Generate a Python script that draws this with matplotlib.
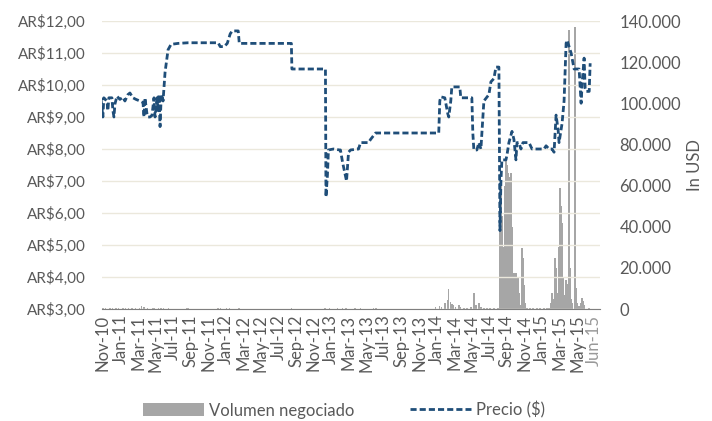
import matplotlib
matplotlib.use('Agg')
import matplotlib.pyplot as plt
from matplotlib.lines import Line2D
from matplotlib.patches import Patch

plt.rcParams['font.family'] = ['Lato', 'DejaVu Sans']

# x values are months counted from Nov-10
tick_months = list(range(0, 55, 2)) + [55.9]
tick_labels = ['Nov-10', 'Jan-11', 'Mar-11', 'May-11', 'Jul-11', 'Sep-11', 'Nov-11',
               'Jan-12', 'Mar-12', 'May-12', 'Jul-12', 'Sep-12', 'Nov-12',
               'Jan-13', 'Mar-13', 'May-13', 'Jul-13', 'Sep-13', 'Nov-13',
               'Jan-14', 'Mar-14', 'May-14', 'Jul-14', 'Sep-14', 'Nov-14',
               'Jan-15', 'Mar-15', 'May-15', 'Jun-15']

price_months = [-0.34, -0.23, 0.0, 0.11, 0.46, 0.57, 0.68, 1.03, 1.14, 1.26, 1.37, 1.60,
                1.94, 2.28, 2.51, 2.85, 3.08, 3.42, 3.77, 4.22, 4.57, 4.68, 4.79, 5.02,
                5.14, 5.37, 5.59, 5.82, 5.94, 6.16, 6.28, 6.39, 6.51, 6.62, 6.74, 6.85,
                7.08, 7.42, 7.76, 8.56, 9.70, 13.13, 13.36, 13.81, 14.16, 14.50, 14.73,
                15.41, 15.53, 21.46, 21.52, 25.34, 25.40, 25.57, 25.68, 26.26, 26.94,
                27.05, 27.28, 27.74, 27.97, 28.20, 29.11, 29.34, 30.25, 30.48, 31.05,
                38.24, 38.36, 38.47, 38.93, 39.27, 39.38, 39.61, 39.73, 40.64, 40.75,
                42.01, 42.12, 42.24, 42.58, 42.81, 43.04, 43.38, 43.95, 44.18, 44.52,
                44.75, 45.09, 45.21, 45.32, 45.43, 45.89, 46.00, 46.23, 46.58, 46.80,
                47.03, 47.15, 47.37, 47.60, 47.83, 48.52, 48.86, 49.66, 50.23, 50.46,
                50.80, 51.14, 51.37, 51.60, 51.83, 51.94, 52.28, 52.51, 52.74, 52.85,
                53.31, 53.65, 54.22, 54.45, 54.57, 54.79, 54.91, 55.02, 55.37, 55.48]
price_values = [9.3, 9.6, 9.0, 9.6, 9.5, 9.2, 9.6, 9.6, 9.2, 9.0, 9.4, 9.65,
                9.55, 9.62, 9.5, 9.7, 9.75, 9.6, 9.55, 9.5, 9.45, 9.0, 9.6, 9.1,
                9.0, 9.0, 9.05, 9.6, 9.0, 9.6, 9.2, 9.7, 8.7, 9.5, 9.7, 9.5,
                10.4, 11.1, 11.27, 11.3, 11.32, 11.32, 11.2, 11.2, 11.3, 11.6, 11.69,
                11.69, 11.3, 11.3, 10.5, 10.5, 6.5, 7.2, 7.97, 8.0, 7.97,
                7.97, 7.6, 7.0, 7.9, 7.97, 8.0, 8.2, 8.2, 8.3, 8.5,
                8.5, 9.5, 9.63, 9.6, 9.1, 9.0, 9.5, 9.94, 9.94, 9.6,
                9.6, 8.5, 7.97, 7.97, 8.2, 8.0, 9.5, 9.7, 10.1, 10.2,
                10.56, 10.56, 5.45, 7.0, 7.66, 7.66, 7.8, 8.2, 8.55, 8.3,
                7.66, 8.2, 8.2, 8.0, 8.2, 8.2, 8.0, 8.0, 8.0, 8.1,
                8.0, 8.0, 7.9, 9.06, 8.6, 8.2, 8.8, 9.5, 11.3, 11.4,
                11.0, 10.5, 10.5, 9.43, 10.06, 10.84, 9.9, 9.8, 9.8, 10.68]

volume_months = [-0.3, 0.0, 0.3, 0.8, 1.1, 1.5, 1.8, 2.3, 2.6, 2.9, 3.3, 3.7, 4.2, 4.4,
                 4.7, 5.1, 5.7, 5.9, 6.3, 6.6, 6.9, 7.5, 9.5, 9.7, 13.1, 13.4, 14.1, 14.4,
                 15.5, 21.5, 25.3, 25.8, 26.7, 27.3, 27.7, 28.7, 29.3, 30.8, 31.1,
                 37.90, 38.36, 38.58, 38.93, 39.04, 39.27, 39.38, 39.61, 39.73, 39.95,
                 40.18, 40.53, 40.75, 41.10, 41.44, 41.89, 42.24, 42.47, 42.81, 43.04,
                 43.38, 43.72, 44.06, 44.52, 44.98, 45.21, 45.32, 45.43, 45.55, 45.66,
                 45.78, 45.89, 46.00, 46.12, 46.23, 46.35, 46.46, 46.58, 46.69, 46.80,
                 46.92, 47.03, 47.15, 47.26, 47.37, 47.49, 47.72, 47.83, 47.95, 48.06,
                 48.29, 48.63, 48.97, 49.43, 49.77, 50.23, 50.57, 50.80, 51.03, 51.14,
                 51.26, 51.48, 51.60, 51.71, 51.94, 52.05, 52.17, 52.28, 52.40, 52.51,
                 52.74, 52.85, 53.08, 53.20, 53.31, 53.42, 53.77, 53.88, 54.00, 54.22,
                 54.45, 54.57, 54.68, 54.79, 55.37]
volume_values = [600, 500, 700, 500, 600, 500, 500, 600, 500, 700, 500, 600, 500, 1500,
                 800, 500, 600, 500, 500, 500, 400, 400, 400, 400, 400, 400, 400, 400,
                 400, 400, 600, 500, 400, 600, 500, 400, 400, 300, 300,
                 1000, 1500, 800, 2900, 2500, 4500, 9700, 3500, 2500, 2000,
                 1000, 2000, 800, 700, 700, 1200, 7800, 2000, 2900, 1000,
                 600, 600, 500, 500, 500, 38000, 60000, 45000, 21000, 30000,
                 60000, 72000, 70000, 66000, 50000, 64000, 66000, 40000, 10000, 17500,
                 5000, 17500, 3000, 15000, 8000, 2000, 29500, 25000, 11700, 3000,
                 500, 500, 500, 600, 500, 500, 600, 600, 3000, 7800,
                 5000, 24800, 20000, 8000, 30000, 59000, 50000, 41700, 15000, 7000,
                 14000, 12000, 135600, 20000, 5000, 3000, 137000, 10000, 3000, 1500,
                 3000, 5300, 4000, 2000, 500]

price_ticks = [3, 4, 5, 6, 7, 8, 9, 10, 11, 12]
volume_ticks = [0, 20000, 40000, 60000, 80000, 100000, 120000, 140000]

text_color = '#595959'
grid_color = '#ebe8dc'
line_color = '#1f4e79'
bar_color = '#a6a6a6'
dash = (0, (2.2, 1.1))

fig = plt.figure(figsize=(7.12, 4.21), dpi=100)
ax = fig.add_axes([102 / 712, 112 / 421, 498 / 712, 288 / 421])
ax2 = ax.twinx()
ax.set_zorder(ax2.get_zorder() + 1)
ax.patch.set_visible(False)

ax2.bar(volume_months, volume_values, width=0.16, color=bar_color, linewidth=0)
ax2.set_ylim(0, 140000)
ax2.set_yticks(volume_ticks)
ax2.set_yticklabels(['{:,}'.format(v).replace(',', '.') for v in volume_ticks],
                    fontsize=12, color=text_color)
ax2.tick_params(axis='y', length=0, pad=14)
ax2.set_ylabel('In USD', fontsize=12, color=text_color, labelpad=4)

ax.plot(price_months, price_values, color=line_color, linewidth=2, linestyle=dash)
ax.set_ylim(3, 12)
ax.set_yticks(price_ticks)
ax.set_yticklabels(['AR$%d,00' % v for v in price_ticks], fontsize=11, color=text_color)
ax.tick_params(axis='y', length=0, pad=12)
ax.grid(axis='y', color=grid_color, linewidth=1)
ax.set_axisbelow(True)

ax.set_xlim(-0.1, 56.6)
ax.set_xticks(tick_months)
ax.set_xticklabels(tick_labels, rotation=90, fontsize=12, color=text_color)
ax.get_xticklabels()[-1].set_color('#999999')
ax.tick_params(axis='x', length=0, pad=4)

for a in (ax, ax2):
    for side in ('top', 'left', 'right'):
        a.spines[side].set_visible(False)
    a.spines['bottom'].set_color('#7f7f7f')
ax2.spines['bottom'].set_visible(False)

handles = [Patch(facecolor=bar_color, edgecolor='none'),
           Line2D([0], [0], color=line_color, linewidth=2, linestyle=dash)]
fig.legend(handles, ['Volumen negociado', 'Precio ($)'], loc='center',
           bbox_to_anchor=(344 / 712, 1 - 410 / 421), ncol=2, frameon=False,
           fontsize=12, handlelength=3.7, handleheight=0.85, handletextpad=0.3,
           columnspacing=3.3, labelcolor=text_color)

fig.savefig('out.png', dpi=100)
